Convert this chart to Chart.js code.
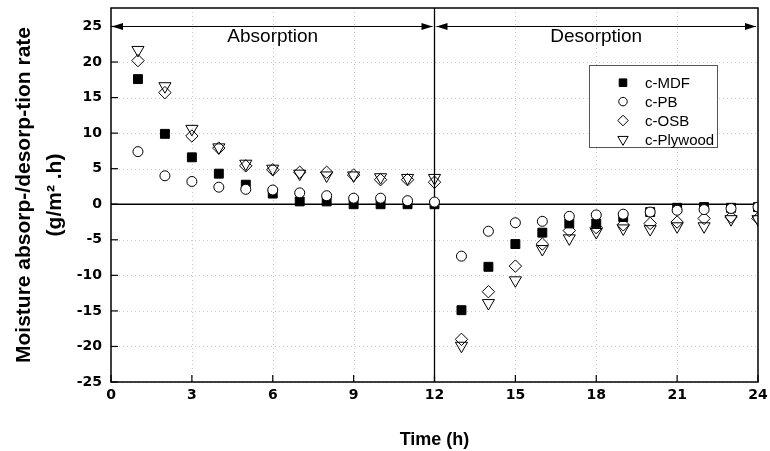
<!DOCTYPE html>
<html><head><meta charset="utf-8">
<script src="https://cdn.jsdelivr.net/npm/chart.js@4/dist/chart.umd.min.js"></script>
<style>html,body{margin:0;padding:0;background:#fff}#wrap{width:770px;height:451px}</style>
</head><body><div id="wrap"><canvas id="c" width="770" height="451"></canvas></div>
<script>
const hours = [1,2,3,4,5,6,7,8,9,10,11,12,13,14,15,16,17,18,19,20,21,22,23,24];
const seriesNames = ['c-MDF','c-PB','c-OSB','c-Plywood'];
const mdf     = [17.6, 9.9, 6.6, 4.3, 2.75, 1.5, 0.4, 0.4, 0, 0, 0, 0, -14.9, -8.8, -5.6, -4.0, -2.7, -2.7, -1.8, -1.1, -0.5, -0.4, -0.5, -0.4];
const pb      = [7.4, 4.0, 3.2, 2.4, 2.1, 2.0, 1.6, 1.2, 0.85, 0.85, 0.5, 0.3, -7.3, -3.8, -2.6, -2.4, -1.7, -1.5, -1.4, -1.1, -0.85, -0.75, -0.6, -0.4];
const osb     = [20.2, 15.7, 9.6, 7.9, 5.4, 4.85, 4.5, 4.5, 4.1, 3.45, 3.45, 3.1, -19.0, -12.3, -8.7, -5.6, -3.7, -3.3, -2.9, -2.7, -2.5, -2.0, -1.8, -2.0];
const plywood = [21.7, 16.6, 10.6, 8.0, 5.7, 5.0, 4.3, 4.05, 4.05, 3.8, 3.7, 3.7, -19.9, -13.9, -10.7, -6.3, -4.8, -3.9, -3.4, -3.5, -3.1, -3.1, -2.1, -2.1];
const xTicks = [0,3,6,9,12,15,18,21,24];
const yTicks = [-25,-20,-15,-10,-5,0,5,10,15,20,25];
const phaseLabels = ['Absorption','Desorption'];
const phaseBounds = [0,12,24];
const arrowLevel = 25;
const xTitle = 'Time (h)';
const yTitle = ['Moisture absorp-/desorp-tion rate','(g/m\u00B2 .h)'];

const styles = [
  {pointStyle:'rect', radius:6.3, rotation:0, bg:'#000', bw:1, order:1},
  {pointStyle:'circle', radius:5, rotation:0, bg:'#fff', bw:1, order:0},
  {pointStyle:'rectRot', radius:6.2, rotation:0, bg:'rgba(0,0,0,0)', bw:1, order:2},
  {pointStyle:'triangle', radius:7, rotation:180, bg:'rgba(0,0,0,0)', bw:1, order:3}
];
const allValues = [mdf, pb, osb, plywood];
const datasets = allValues.map((vals,i)=>({
  label: seriesNames[i],
  data: hours.map((h,j)=>({x:h,y:vals[j]})),
  order: styles[i].order,
  pointStyle: styles[i].pointStyle,
  pointRadius: styles[i].radius,
  pointRotation: styles[i].rotation,
  pointBackgroundColor: styles[i].bg,
  pointBorderColor: '#000',
  pointBorderWidth: styles[i].bw,
  showLine: false,
  clip: 0
}));

const FONT = "'Liberation Sans', Arial, sans-serif";
const TICKFONT = "'DejaVu Sans', 'Liberation Sans', sans-serif";

const decor = {
  id:'decor',
  beforeDatasetsDraw(chart){
    const {ctx, chartArea:a, scales:{x,y}} = chart;
    ctx.save();
    // dotted grid
    ctx.strokeStyle = '#c8c8c8';
    ctx.lineWidth = 1;
    ctx.setLineDash([1,3]);
    xTicks.forEach(v=>{ if(v>0 && v<24 && v!==12){ const px=Math.round(x.getPixelForValue(v))+0.5; ctx.beginPath(); ctx.moveTo(px,a.top); ctx.lineTo(px,a.bottom); ctx.stroke(); }});
    yTicks.forEach(v=>{ if(v!==0){ const py=Math.round(y.getPixelForValue(v))+0.5; ctx.beginPath(); ctx.moveTo(a.left,py); ctx.lineTo(a.right,py); ctx.stroke(); }});
    ctx.setLineDash([]);
    ctx.strokeStyle = '#000';
    ctx.lineWidth = 1.3;
    // zero line & phase divider
    const y0 = y.getPixelForValue(0);
    ctx.beginPath(); ctx.moveTo(a.left,y0); ctx.lineTo(a.right,y0); ctx.stroke();
    const x12 = x.getPixelForValue(phaseBounds[1]);
    ctx.beginPath(); ctx.moveTo(x12,a.top); ctx.lineTo(x12,a.bottom); ctx.stroke();
    // inward ticks
    ctx.lineWidth = 1.2;
    xTicks.forEach(v=>{ const px=x.getPixelForValue(v); ctx.beginPath(); ctx.moveTo(px,a.bottom); ctx.lineTo(px,a.bottom-7); ctx.stroke(); });
    yTicks.forEach(v=>{ const py=y.getPixelForValue(v); ctx.beginPath(); ctx.moveTo(a.left,py); ctx.lineTo(a.left+7,py); ctx.stroke(); });
    // arrows
    const ya = y.getPixelForValue(arrowLevel);
    ctx.lineWidth = 1;
    ctx.fillStyle = '#000';
    function head(px, dir){ ctx.beginPath(); ctx.moveTo(px,ya); ctx.lineTo(px-dir*11,ya-3.5); ctx.lineTo(px-dir*11,ya+3.5); ctx.closePath(); ctx.fill(); }
    for(let k=0;k<2;k++){
      const xa = x.getPixelForValue(phaseBounds[k])+ (k===0?1:2);
      const xb = x.getPixelForValue(phaseBounds[k+1]) - 2;
      ctx.beginPath(); ctx.moveTo(xa,ya); ctx.lineTo(xb,ya); ctx.stroke();
      head(xa,-1); head(xb,1);
      ctx.font = "19px " + FONT;
      ctx.textAlign='center'; ctx.textBaseline='middle';
      ctx.fillText(phaseLabels[k], x.getPixelForValue((phaseBounds[k]+phaseBounds[k+1])/2), y.getPixelForValue(23.6));
    }
    ctx.restore();
  },
  afterDraw(chart){
    const {ctx, chartArea:a} = chart;
    ctx.save();
    // frame
    ctx.strokeStyle='#000'; ctx.lineWidth=1.5;
    ctx.strokeRect(a.left, a.top, a.right-a.left, a.bottom-a.top);
    // legend
    const bx=589.5, by=65.5, bw=128, bh=82;
    ctx.fillStyle='#fff'; ctx.fillRect(bx,by,bw,bh);
    ctx.strokeStyle='#555'; ctx.lineWidth=1; ctx.strokeRect(bx,by,bw,bh);
    ctx.font = "15px " + FONT; ctx.textAlign='left'; ctx.textBaseline='middle';
    seriesNames.forEach((n,i)=>{
      const yy = 82.7 + i*18.9;
      const st = styles[i];
      ctx.fillStyle = st.bg; ctx.strokeStyle='#000'; ctx.lineWidth=1;
      Chart.helpers.drawPoint(ctx, {pointStyle:st.pointStyle, radius:st.radius*0.85, rotation:st.rotation, borderWidth:1}, 623, yy);
      ctx.fillStyle='#000';
      ctx.fillText(n, 645, yy+1);
    });
    ctx.restore();
  }
};

new Chart(document.getElementById('c'), {
  type:'scatter',
  data:{datasets},
  options:{
    responsive:false, animation:false, devicePixelRatio:1,
    layout:{padding:{left:0,right:12,top:5,bottom:0}},
    plugins:{legend:{display:false}, tooltip:{enabled:false}},
    scales:{
      x:{
        type:'linear', min:0, max:24,
        afterBuildTicks:s=>{ s.ticks = xTicks.map(v=>({value:v})); },
        afterFit:s=>{ s.height = 69; s.paddingLeft = 0; s.paddingRight = 0; },
        grid:{display:false, drawTicks:false},
        border:{display:false},
        ticks:{color:'#000', padding:5, font:{family:TICKFONT, size:14, weight:'bold'}, maxRotation:0},
        title:{display:true, text:xTitle, color:'#000', font:{family:FONT, size:18, weight:'bold'}, padding:{top:10,bottom:0}}
      },
      y:{
        type:'linear', min:-25, max:27.6,
        afterBuildTicks:s=>{ s.ticks = yTicks.map(v=>({value:v})); },
        afterFit:s=>{ s.width = 111; s.paddingTop = 0; s.paddingBottom = 0; },
        grid:{display:false, drawTicks:false},
        border:{display:false},
        ticks:{color:'#000', padding:9, font:{family:TICKFONT, size:14, weight:'bold'}},
        title:{display:true, text:yTitle, color:'#000', font:{family:FONT, size:21, weight:'bold', lineHeight:1.5}, padding:{top:8,bottom:0}}
      }
    }
  },
  plugins:[decor]
});
</script></body></html>
